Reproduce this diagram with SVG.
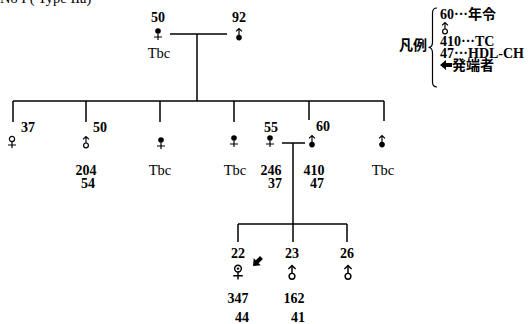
<svg xmlns="http://www.w3.org/2000/svg" width="532" height="324" viewBox="0 0 532 324">
  <style>
    .ln { stroke: #000; stroke-width: 1.5; fill: none; }
    .sym { stroke: #000; stroke-width: 1.2; fill: none; }
    .num { font-family: "Liberation Serif", "Times New Roman", serif; font-size: 14px; font-weight: bold; fill: #000; text-anchor: middle; }
    .tbc { font-family: "Liberation Serif", "Times New Roman", serif; font-size: 14.5px; fill: #000; text-anchor: middle; }
    .lbl { font-family: "Liberation Serif", "Times New Roman", serif; font-size: 14px; font-weight: bold; fill: #000; }
    .jp { font-family: "Liberation Serif", "Noto Sans CJK JP", serif; font-size: 14px; font-weight: bold; fill: #000; }
  </style>
  <defs>
    <!-- symbols: origin at the top centre of each glyph -->
    <g id="female">
      <circle class="sym" cx="0" cy="3" r="2.6"/>
      <path class="sym" d="M0 5.6V12M-4 9H4"/>
    </g>
    <g id="female-f">
      <circle cx="0" cy="3" r="2.8" fill="#000"/>
      <path class="sym" d="M0 5.6V12M-4 9H4"/>
    </g>
    <g id="female-p">
      <circle class="sym" cx="0" cy="3" r="2.8"/>
      <circle cx="0" cy="3" r="1" fill="#000"/>
      <path class="sym" d="M0 5.8V12M-4 9H4"/>
    </g>
    <g id="male">
      <path class="sym" d="M-3 3.4L0 0.5L3 3.4M0 0.5V7"/>
      <circle class="sym" cx="0" cy="9.4" r="2.4"/>
    </g>
    <g id="male-f">
      <path class="sym" d="M-3 3.4L0 0.5L3 3.4M0 0.5V7"/>
      <circle cx="0" cy="9.6" r="2.8" fill="#000"/>
    </g>
    <polygon id="arrow" points="0,0 6,-5 6,-2 12,-2 12,2 6,2 6,5" fill="#000"/>
  </defs>

  <text class="tbc" x="0" y="3" style="text-anchor:start">No I ( Type IIa)</text>

  <!-- lines of descent and marriage -->
  <g id="connectors">
    <path class="ln" d="M170 34H227"/>
    <path class="ln" d="M197 34V101"/>
    <path class="ln" d="M13 101H384"/>
    <path class="ln" d="M13 101V122M86 101V122M160 101V122M234 101V122M309 101V120M384 101V121"/>
    <path class="ln" d="M282 143H305"/>
    <path class="ln" d="M293 143V224"/>
    <path class="ln" d="M238 224H347"/>
    <path class="ln" d="M238 224V242M293 224V242M347 224V242"/>
  </g>

  <!-- generation I -->
  <g id="g1-father-side">
    <text class="num" x="158" y="22">50</text>
    <use href="#female-f" x="158" y="28"/>
    <text class="tbc" x="159" y="58">Tbc</text>
  </g>
  <g id="g1-spouse">
    <text class="num" x="239" y="22">92</text>
    <use href="#male-f" x="239" y="28"/>
  </g>

  <!-- generation II -->
  <g id="g2-1">
    <text class="num" x="28" y="132">37</text>
    <use href="#female" x="12" y="136"/>
  </g>
  <g id="g2-2">
    <text class="num" x="100" y="132">50</text>
    <use href="#male" x="86" y="136"/>
    <text class="num" x="86" y="175">204</text>
    <text class="num" x="88" y="188">54</text>
  </g>
  <g id="g2-3">
    <use href="#female-f" x="161" y="137"/>
    <text class="tbc" x="160" y="175">Tbc</text>
  </g>
  <g id="g2-4">
    <use href="#female-f" x="234" y="135"/>
    <text class="tbc" x="235" y="175">Tbc</text>
  </g>
  <g id="g2-5">
    <text class="num" x="271" y="132">55</text>
    <use href="#female-f" x="270" y="135"/>
    <text class="num" x="271" y="175">246</text>
    <text class="num" x="275" y="188">37</text>
  </g>
  <g id="g2-6">
    <text class="num" x="323" y="131">60</text>
    <use href="#male-f" x="312" y="135"/>
    <text class="num" x="314" y="175">410</text>
    <text class="num" x="317" y="188">47</text>
  </g>
  <g id="g2-7">
    <use href="#male-f" x="382" y="135"/>
    <text class="tbc" x="383" y="175">Tbc</text>
  </g>

  <!-- generation III -->
  <g id="g3-1">
    <text class="num" x="238" y="258">22</text>
    <use href="#female-p" x="238" y="265" transform="translate(238 265) scale(1.2) translate(-238 -265)"/>
    <use href="#arrow" transform="translate(253 266) rotate(-45)"/>
    <text class="num" x="238" y="303">347</text>
    <text class="num" x="242" y="322">44</text>
  </g>
  <g id="g3-2">
    <text class="num" x="292" y="258">23</text>
    <use href="#male" x="292" y="265" transform="translate(292 265) scale(1.2) translate(-292 -265)"/>
    <text class="num" x="294" y="303">162</text>
    <text class="num" x="298" y="322">41</text>
  </g>
  <g id="g3-3">
    <text class="num" x="347" y="258">26</text>
    <use href="#male" x="348" y="265" transform="translate(348 265) scale(1.2) translate(-348 -265)"/>
  </g>

  <!-- legend -->
  <g id="legend">
    <text class="jp" x="399" y="50">凡例</text>
    <path class="sym" d="M437 8Q432.5 8 432.5 13V42Q432.5 47.5 428.5 47.5Q432.5 47.5 432.5 53V82Q432.5 87 437 87"/>
    <text class="jp" x="440" y="19">60···年令</text>
    <use href="#male" x="445" y="22"/>
    <text class="lbl" x="440" y="46">410···TC</text>
    <text class="lbl" x="440" y="58">47···HDL-CH</text>
    <use href="#arrow" transform="translate(440 65)"/>
    <text class="jp" x="452" y="70">発端者</text>
  </g>
</svg>
